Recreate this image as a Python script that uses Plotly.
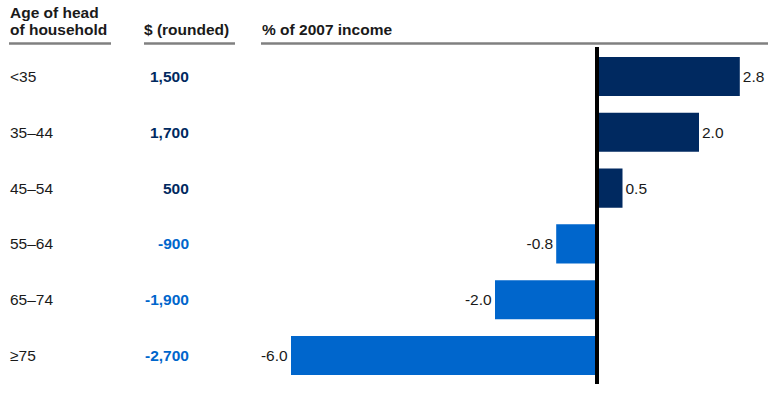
import plotly.graph_objects as go

categories = ["<35", "35–44", "45–54", "55–64", "65–74", "≥75"]
dollars = ["1,500", "1,700", "500", "-900", "-1,900", "-2,700"]
pct_income = [2.8, 2.0, 0.5, -0.8, -2.0, -6.0]

NAVY = "#002960"
BLUE = "#0066CC"
FONT = "Liberation Sans, Arial, sans-serif"
FS = 15.5
W, H = 783, 400

def px_x(p):
    return p / W

def px_y(p):
    return 1 - p / H

colors = [NAVY if v >= 0 else BLUE for v in pct_income]

fig = go.Figure(go.Bar(
    x=pct_income, y=categories, orientation="h",
    marker=dict(color=colors, line=dict(width=0)),
    width=0.7,
    text=[f"{v:.1f}" for v in pct_income],
    textposition="outside", cliponaxis=False,
    textfont=dict(family=FONT, size=FS, color="#1a1a1a"),
    hoverinfo="skip",
))

x_dom = [px_x(261), px_x(768)]
y_dom = [px_y(383.4), px_y(48.6)]
zero_px = 597
ppu = 51.0
x_range = [-(zero_px - 261) / ppu, (768 - zero_px) / ppu]

annotations = []
hdr = dict(xref="paper", yref="paper", showarrow=False, xanchor="left", yanchor="middle",
           font=dict(family=FONT, size=FS, color="#1a1a1a"))
annotations.append(dict(hdr, x=px_x(8), y=px_y(12), text="<b>Age of head</b>"))
annotations.append(dict(hdr, x=px_x(8), y=px_y(30), text="<b>of household</b>"))
annotations.append(dict(hdr, x=px_x(142), y=px_y(30), text="<b>$ (rounded)</b>"))
annotations.append(dict(hdr, x=px_x(260), y=px_y(30), text="<b>% of 2007 income</b>"))

for cat, d, v in zip(categories, dollars, pct_income):
    annotations.append(dict(xref="paper", yref="y", x=px_x(8), y=cat, text=cat,
                            showarrow=False, xanchor="left", yanchor="middle",
                            font=dict(family=FONT, size=FS, color="#1a1a1a")))
    annotations.append(dict(xref="paper", yref="y", x=px_x(191), y=cat, text=f"<b>{d}</b>",
                            showarrow=False, xanchor="right", yanchor="middle",
                            font=dict(family=FONT, size=FS, color=NAVY if v >= 0 else BLUE)))

shapes = []
for x0, x1 in [(9, 111), (144, 235), (261, 768)]:
    shapes.append(dict(type="line", xref="paper", yref="paper",
                       x0=px_x(x0), x1=px_x(x1), y0=px_y(43.5), y1=px_y(43.5),
                       line=dict(color="#808080", width=2.5)))
shapes.append(dict(type="line", xref="x", yref="paper", x0=0, x1=0,
                   y0=px_y(384), y1=px_y(47), layer="above",
                   line=dict(color="black", width=4)))

fig.update_layout(
    width=W, height=H,
    margin=dict(l=0, r=0, t=0, b=0),
    paper_bgcolor="white", plot_bgcolor="white",
    showlegend=False,
    xaxis=dict(domain=x_dom, range=x_range, visible=False, fixedrange=True),
    yaxis=dict(domain=y_dom, type="category", categoryarray=categories,
               categoryorder="array", range=[5.5, -0.5], visible=False, fixedrange=True),
    annotations=annotations, shapes=shapes,
    font=dict(family=FONT),
)

fig.write_html("out.html", config={"displayModeBar": False},
               post_script="document.body.style.margin='0';document.body.style.padding='0';")
